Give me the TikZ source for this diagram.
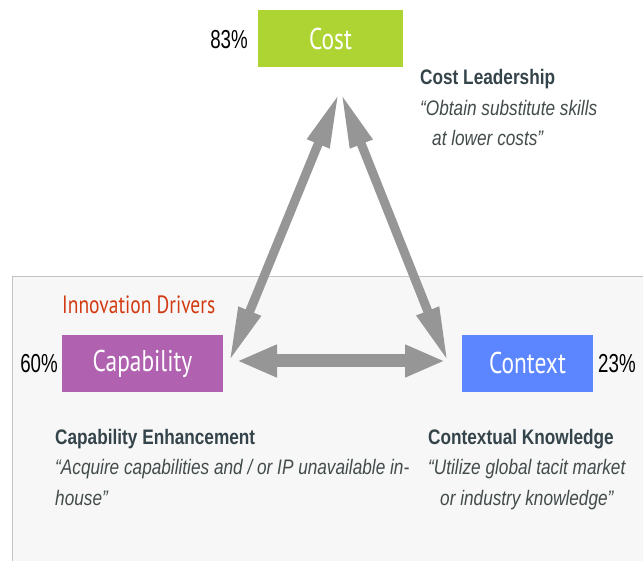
\documentclass[tikz,border=0pt]{standalone}
\usepackage{fontspec}
\usetikzlibrary{arrows.meta}
\newfontfamily\narrowf[FakeStretch=0.82]{Liberation Sans}
\newfontfamily\pctf[FakeStretch=0.72]{Liberation Sans}
\newfontfamily\condf[FakeStretch=0.78]{PT Sans}
\definecolor{costgreen}{HTML}{AED434}
\definecolor{capviolet}{HTML}{B062B0}
\definecolor{ctxblue}{HTML}{5C86FF}
\definecolor{arrowgray}{HTML}{969696}
\definecolor{panelfill}{HTML}{F7F7F7}
\definecolor{panelline}{HTML}{C4C4C4}
\definecolor{drvred}{HTML}{D23A12}
\definecolor{headtxt}{HTML}{34444A}
\definecolor{quotetxt}{HTML}{434B4B}
\tikzset{
  driverbox/.style={minimum height=57pt, inner sep=0pt, text=white, font=\condf\fontsize{30}{32}\selectfont},
  pctlabel/.style={inner sep=0pt, font=\pctf\fontsize{26}{28}\selectfont, text=black},
  headline/.style={anchor=base west, inner sep=0pt, text=headtxt, font=\narrowf\bfseries\fontsize{21}{24}\selectfont},
  quoteline/.style={anchor=base west, inner sep=0pt, text=quotetxt, font=\narrowf\itshape\fontsize{21}{24}\selectfont},
  bigarrow/.style={draw=arrowgray, line width=13pt, {Triangle[length=40pt,width=30pt]}-{Triangle[length=40pt,width=30pt]}},
  diagarrow/.style={draw=arrowgray, line width=9pt, {Triangle[length=55pt,width=22pt]}-{Triangle[length=55pt,width=22pt]}}
}
\begin{document}
\begin{tikzpicture}[x=1pt,y=-1pt]
\useasboundingbox (0,0) rectangle (643,561);
\fill[white] (0,0) rectangle (643,561);
\fill[panelfill] (12,277) rectangle (643,561);
\draw[panelline, line width=1pt] (12,561) -- (12,277) -- (643,277);

\node[driverbox, fill=costgreen, minimum width=145pt] (cost) at (330.5,39) {Cost};
\node[driverbox, fill=capviolet, minimum width=161pt] (cap) at (142.5,363.5) {Capability};
\node[driverbox, fill=ctxblue, minimum width=131pt] (ctx) at (527.5,363.5) {Context};

\node[pctlabel, anchor=east] (pcost) at (248,40) {83\%};
\node[pctlabel, anchor=east] (pcap) at (58,364) {60\%};
\node[pctlabel, anchor=west] (pctx) at (598,364) {23\%};

\node[anchor=west, inner sep=0pt, text=drvred, font=\condf\fontsize{25}{28}\selectfont] (drivers) at (62,305) {Innovation Drivers};

\coordinate (apexL) at (339,93);
\coordinate (apexR) at (341,93);
\coordinate (capTip) at (229,362);
\coordinate (ctxTip) at (448,362);
\coordinate (capSide) at (237,361);
\coordinate (ctxSide) at (445,361);
\draw[diagarrow] (apexL) -- (capTip);
\draw[diagarrow] (apexR) -- (ctxTip);
\draw[bigarrow] (capSide) -- (ctxSide);

\node[headline] (cl) at (420,85) {Cost Leadership};
\node[quoteline] (cl1) at (420,116) {“Obtain substitute skills};
\node[quoteline] (cl2) at (432,146) {at lower costs”};

\node[headline] (ce) at (55,445) {Capability Enhancement};
\node[quoteline] (ce1) at (55,475) {“Acquire capabilities and / or IP unavailable in-};
\node[quoteline] (ce2) at (55,505) {house”};

\node[headline] (ck) at (428,445) {Contextual Knowledge};
\node[quoteline] (ck1) at (428,475) {“Utilize global tacit market};
\node[quoteline] (ck2) at (440,505) {or industry knowledge”};
\end{tikzpicture}
\end{document}
